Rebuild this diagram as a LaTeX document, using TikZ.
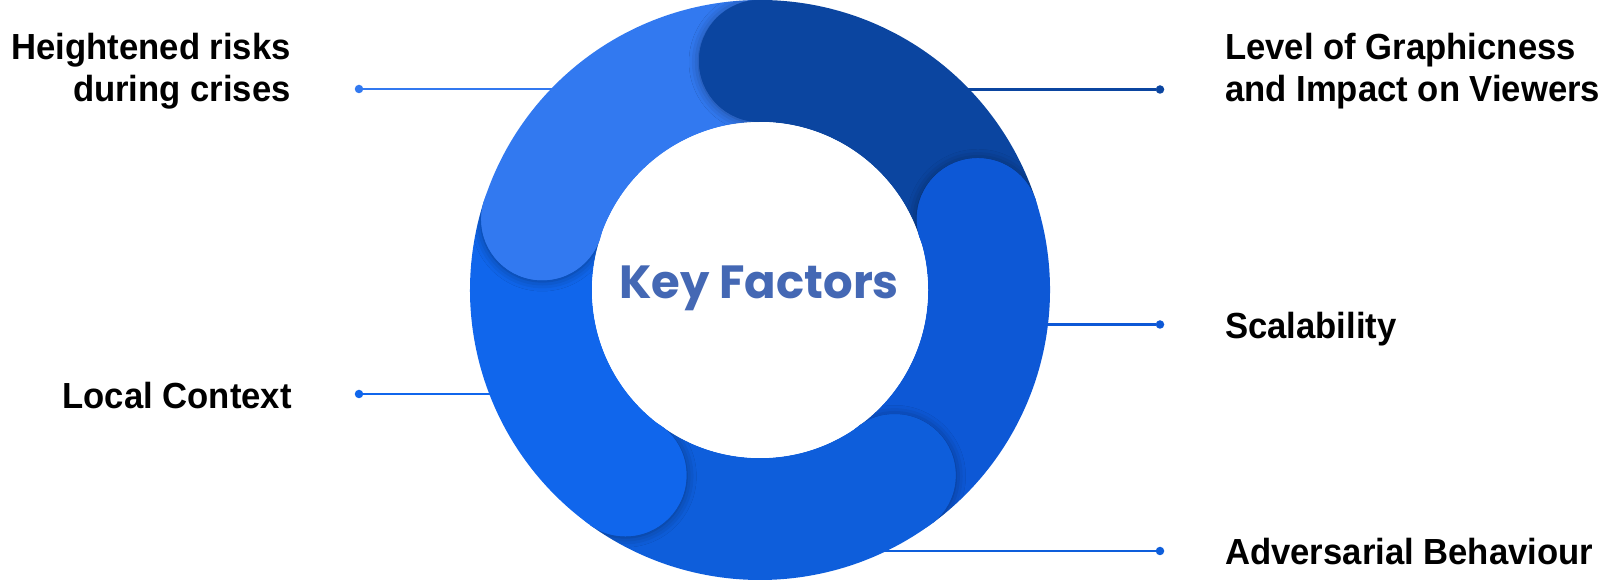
\documentclass[tikz,border=0pt]{standalone}
\usepackage{fontspec}
\setmainfont{Liberation Sans}[FakeStretch=0.955]
\newfontfamily\keyfont{Poppins}
\usepackage{xcolor}
\usetikzlibrary{calc,shadows.blur}
\definecolor{segLight}{HTML}{3279F0}
\definecolor{segDark}{HTML}{0B45A0}
\definecolor{segRight}{HTML}{0D58D6}
\definecolor{segBottom}{HTML}{0E5EDB}
\definecolor{segLeft}{HTML}{1066EC}
\definecolor{keyBlue}{HTML}{4468B4}

\begin{document}
\begin{tikzpicture}[
      x=1pt, y=1pt,
      factor/.style = {inner sep=0pt,
        font=\fontsize{36.3}{42}\selectfont\bfseries},
      tipdot/.style = {circle, inner sep=0pt, minimum size=8.5pt},
      leader/.style = {line width=2.2pt},
      band/.style = {line width=122pt},
      capshadow/.style = {blur shadow={shadow xshift=0pt, shadow yshift=-1pt,
        shadow blur radius=10pt, shadow opacity=40}}
    ]
      \useasboundingbox (0,0) rectangle (1614,580);
      \coordinate (hub) at (760,290);

      \foreach \n/\x/\y/\ex/\c in {hr/359/491/600/segLight, lc/359/186/540/segLeft,
          lg/1160/490.5/920/segDark, sc/1160/255.5/990/segRight, ab/1160/29/820/segBottom} {
        \node[tipdot, fill=\c] (d-\n) at (\x,\y) {};
        \coordinate (e-\n) at (\ex,\y);
        \draw[leader, \c] (d-\n) -- (e-\n);
      }

      \foreach \a/\b/\c in {162/90/segLight, 90/18/segDark, 18/-54/segRight,
          -54/-126/segBottom, -126/-198/segLeft}
        \draw[band, \c] ($(hub)+(\a:229)$) arc[start angle=\a, end angle=\b, radius=229pt];

      \fill[white] (hub) circle[radius=168pt];

      \foreach \a/\c in {162/segLight, 90/segDark, 18/segRight, -54/segBottom, -126/segLeft} {
        \begin{scope}
          \clip ($(hub)+(\a:168)$) arc[start angle=\a, end angle=\a+26, radius=168pt]
            -- ($(hub)+({\a+26}:290)$) arc[start angle=\a+26, end angle=\a, radius=290pt] -- cycle;
          \fill[\c, capshadow] ($(hub)+(\a:229)$) circle[radius=61pt];
        \end{scope}
        \fill[\c] ($(hub)+(\a:229)$) circle[radius=61pt];
      }

      \node[font=\keyfont\fontsize{46.5}{46.5}\selectfont\bfseries, text=keyBlue,
        inner sep=0pt, anchor=base] (key) at (759,281) {Key Factors};

      \node[factor, align=right, anchor=base east] (t-hr) at (291,478.5) {Heightened risks\\during crises};
      \node[factor, anchor=base east] (t-lc) at (292,171) {Local Context};
      \node[factor, align=left, anchor=base west] (t-lg) at (1225,478.5) {Level of Graphicness\\and Impact on Viewers};
      \node[factor, anchor=base west] (t-sc) at (1225,241.5) {Scalability};
      \node[factor, anchor=base west] (t-ab) at (1225,15) {Adversarial Behaviour};
  \end{tikzpicture}
\end{document}
